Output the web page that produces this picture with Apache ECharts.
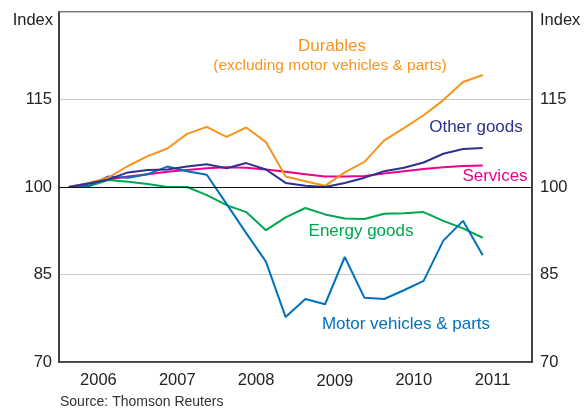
<!DOCTYPE html>
<html style="height: 100%">
<head>
  <meta charset="utf-8">
</head>
<body style="height: 100%; margin: 0; background: #fff">
  <div id="container" style="width: 584px; height: 408px"></div>
  <script type="text/javascript" src="https://cdn.jsdelivr.net/npm/echarts@6/dist/echarts.min.js"></script>
  <script type="text/javascript">
// quarterly index, 2006 Q1 = 100 (2006 Q1 .. 2011 Q2)
var years = ['2006', '2007', '2008', '2009', '2010', '2011'];
var yTicks = [70, 85, 100, 115, 130];

var durables = [100, 100.7, 101.6, 103.6, 105.3, 106.6, 109.1, 110.3, 108.6, 110.2, 107.7, 101.8,
  101.0, 100.2, 102.5, 104.3, 108.0, 110.1, 112.3, 114.9, 118.0, 119.2];
var otherGoods = [100, 100.6, 101.3, 102.5, 102.9, 103.0, 103.5, 103.9, 103.2, 104.1, 103.0, 100.7,
  100.2, 100.0, 100.7, 101.6, 102.7, 103.3, 104.2, 105.7, 106.5, 106.7];
var services = [100, 100.6, 101.3, 101.8, 102.2, 102.6, 102.9, 103.2, 103.4, 103.3, 103.0, 102.6,
  102.2, 101.8, 101.8, 101.9, 102.3, 102.7, 103.1, 103.4, 103.6, 103.7];
var energy = [100, 100.1, 101.2, 100.9, 100.5, 100.0, 100.0, 98.6, 96.9, 95.7, 92.6, 94.8,
  96.4, 95.3, 94.6, 94.5, 95.4, 95.5, 95.7, 94.2, 92.9, 91.3];
var motor = [100, 100.2, 101.8, 101.6, 102.2, 103.5, 102.7, 102.1, 97.1, 92.1, 87.2, 77.7,
  80.8, 79.9, 88.0, 81.0, 80.8, 82.3, 83.9, 90.8, 94.2, 88.3];

var FONT = "'Liberation Sans', Arial, sans-serif";

function toPoints(arr) {
  // place each quarter in the middle of its slot on a 0..24 quarter scale
  return arr.map(function (v, i) { return [i + 0.5, v]; });
}

function line(name, data, color, extra) {
  var s = {
    name: name,
    type: 'line',
    xAxisIndex: 1,
    symbol: 'none',
    smooth: false,
    lineStyle: { color: color, width: 2 },
    data: toPoints(data)
  };
  return Object.assign(s, extra || {});
}

var dom = document.getElementById('container');
var myChart = echarts.init(dom, null, { renderer: 'canvas' });

var yAxisBase = {
  type: 'value',
  min: yTicks[0],
  max: yTicks[yTicks.length - 1],
  interval: 15,
  name: 'Index',
  nameLocation: 'end',
  nameGap: -8,
  axisLine: { show: true, lineStyle: { color: '#333', width: 1.5 } },
  axisTick: { show: false },
  axisLabel: {
    fontFamily: FONT, fontSize: 16.5, color: '#222',
    showMaxLabel: false
  }
};

var option = {
  backgroundColor: '#fff',
  animation: false,
  grid: {
    left: 59, right: 52, top: 12, bottom: 46,
    show: true, borderColor: '#444', borderWidth: 1.5
  },
  xAxis: [
    {
      type: 'category',
      data: years,
      boundaryGap: true,
      axisLine: { lineStyle: { color: '#333', width: 1.5 } },
      axisTick: { inside: true, length: 6, interval: 0, lineStyle: { color: '#555' } },
      axisLabel: {
        interval: 0, hideOverlap: false,
        fontFamily: FONT, fontSize: 16.5, color: '#222', margin: 10,
        formatter: function (v) { return v === '2009' ? '{low|' + v + '}' : v; },
        rich: { low: { fontFamily: FONT, fontSize: 16.5, color: '#222', padding: [1, 0, 0, 0] } }
      }
    },
    { type: 'value', min: 0, max: years.length * 4, show: false }
  ],
  yAxis: [
    Object.assign({}, yAxisBase, {
      position: 'left',
      nameTextStyle: { fontFamily: FONT, fontSize: 16.5, color: '#222', align: 'right', verticalAlign: 'middle', padding: [0, 6, 0, 0] },
      axisLabel: Object.assign({}, yAxisBase.axisLabel, { margin: 7 }),
      splitLine: { show: true, lineStyle: { color: '#c8c8c8', width: 1 } }
    }),
    Object.assign({}, yAxisBase, {
      position: 'right',
      nameTextStyle: { fontFamily: FONT, fontSize: 16.5, color: '#222', align: 'left', verticalAlign: 'middle', padding: [0, 0, 0, 8] },
      axisLabel: Object.assign({}, yAxisBase.axisLabel, { margin: 8 }),
      splitLine: { show: false }
    })
  ],
  series: [
    line('Services', services, '#ec008c', {
      markLine: {
        silent: true, symbol: 'none', label: { show: false },
        lineStyle: { color: '#111', width: 1.2, type: 'solid' },
        data: [{ yAxis: 100 }]
      }
    }),
    line('Energy goods', energy, '#00a651'),
    line('Motor vehicles & parts', motor, '#0072bc'),
    line('Durables', durables, '#f7941d'),
    line('Other goods', otherGoods, '#2e3192')
  ],
  graphic: [
    { type: 'text', x: 332, y: 46, style: { text: 'Durables', fill: '#f7941d', font: '17px ' + FONT, textAlign: 'center', textVerticalAlign: 'middle' } },
    { type: 'text', x: 330, y: 66, style: { text: '(excluding motor vehicles & parts)', fill: '#f7941d', font: '15.5px ' + FONT, textAlign: 'center', textVerticalAlign: 'middle' } },
    { type: 'text', x: 476, y: 127, style: { text: 'Other goods', fill: '#2e3192', font: '17px ' + FONT, textAlign: 'center', textVerticalAlign: 'middle' } },
    { type: 'text', x: 495, y: 176, style: { text: 'Services', fill: '#ec008c', font: '17px ' + FONT, textAlign: 'center', textVerticalAlign: 'middle' } },
    { type: 'text', x: 361, y: 231, style: { text: 'Energy goods', fill: '#00a651', font: '17px ' + FONT, textAlign: 'center', textVerticalAlign: 'middle' } },
    { type: 'text', x: 406, y: 324, style: { text: 'Motor vehicles & parts', fill: '#0072bc', font: '17px ' + FONT, textAlign: 'center', textVerticalAlign: 'middle' } },
    { type: 'text', x: 60, y: 395, style: { text: 'Source: Thomson Reuters', fill: '#333', font: '14px ' + FONT, textAlign: 'left', textVerticalAlign: 'top' } }
  ]
};

myChart.setOption(option);
window.addEventListener('resize', myChart.resize);
  </script>
</body>
</html>
